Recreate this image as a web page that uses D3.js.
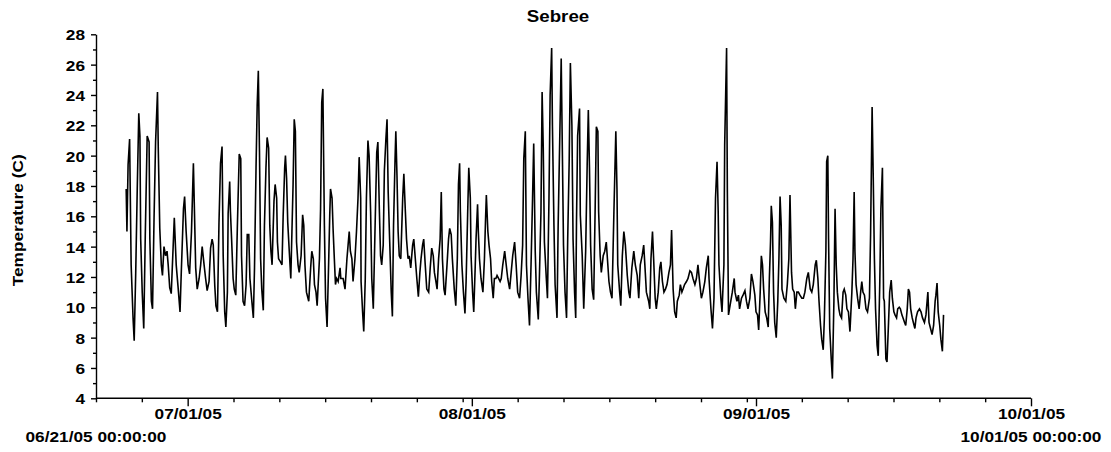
<!DOCTYPE html>
<html><head><meta charset="utf-8">
<script src="https://cdn.jsdelivr.net/npm/d3@7"></script>
<style>
body{margin:0;background:#fff}
svg{display:block}
text{font-family:"Liberation Sans",Arial,sans-serif;font-weight:bold;fill:#000}
</style>
</head><body>
<svg id="chart" width="1111" height="452"></svg>
<script>
// ---------- data ----------
const chartTitle = "Sebree";
const yAxisTitle = "Temperature (C)";
const origin = "2005-06-21T00:00:00Z";       // hours below are counted from here
const endTime = "2005-10-01T00:00:00Z";
const yMajorTicks = [4,6,8,10,12,14,16,18,20,22,24,26,28];
const yMinorTicks = [5,7,9,11,13,15,17,19,21,23,25,27];
const monthTicks = ["2005-07-01","2005-08-01","2005-09-01","2005-10-01"];
const fiveDayTicks = ["2005-06-21","2005-06-26","2005-07-06","2005-07-11","2005-07-16","2005-07-21","2005-07-26","2005-07-31",
  "2005-08-06","2005-08-11","2005-08-16","2005-08-21","2005-08-26","2005-08-31",
  "2005-09-06","2005-09-11","2005-09-16","2005-09-21","2005-09-26"];
const endLabels = ["06/21/05 00:00:00","10/01/05 00:00:00"];

// [hours since origin, temperature C]
const juneTemps = [[79,17.8],[81,15.0],[84,19.4],[88,21.1],[92,12.8],[97,9.3],[100,7.8],[104,12.3],[108,17.8],[112,22.8],[115,21.3],[117,14.5],[121,11.0],[125,8.6],[129,14.7],[134,21.3],[139,20.9],[141,14.5],[145,10.4],[148,9.9],[152,15.9],[156,20.9],[161,24.2],[163,20.5],[167,15.2],[171,12.8],[174,12.1],[178,14.0],[182,13.4],[186,13.7],[189,12.8],[193,11.3],[197,10.9],[202,14.0],[205,15.9],[210,12.8],[215,11.3],[220,9.7],[223,12.1],[229,16.5],[232,17.3],[236,15.0]];
const julyTemps = [[241,12.8],[245,12.2],[250,15.0],[255,19.5],[261,12.6],[265,11.2],[270,11.9],[274,12.8],[278,14.0],[283,12.8],[287,11.9],[291,11.1],[296,11.7],[300,13.9],[304,14.5],[307,14.1],[311,11.4],[314,10.1],[318,9.7],[322,15.6],[326,19.5],[330,20.6],[333,13.4],[337,9.7],[340,8.7],[344,11.0],[346,16.2],[350,18.3],[352,16.3],[355,14.5],[359,11.9],[362,11.2],[366,10.8],[370,15.2],[375,20.1],[379,19.8],[381,13.4],[385,10.4],[389,10.1],[393,11.5],[396,14.8],[400,14.8],[403,11.9],[408,10.4],[412,9.3],[415,12.6],[419,19.2],[422,23.3],[425,25.6],[428,20.3],[431,13.2],[434,11.2],[438,9.8],[441,15.4],[445,19.2],[448,21.2],[452,20.5],[455,15.4],[458,13.7],[461,12.8],[466,17.0],[469,18.1],[473,17.2],[475,14.3],[478,13.2],[483,13.0],[487,12.8],[490,16.0],[494,19.2],[496,20.0],[499,18.5],[502,15.6],[506,13.7],[510,11.9],[513,15.0],[516,18.1],[519,22.4],[522,21.6],[525,14.3],[529,12.8],[532,12.3],[537,13.4],[541,16.1],[544,15.4],[547,12.8],[551,11.0],[557,10.4],[562,12.6],[565,13.7],[569,13.2],[572,11.5],[576,11.0],[579,10.1],[585,13.2],[588,16.5],[591,23.5],[594,24.4],[598,15.4],[601,10.6],[605,8.7],[609,12.8],[612,16.1],[614,17.8],[618,17.2],[621,15.0],[624,13.2],[627,11.5],[630,11.9],[634,11.7],[639,12.6],[641,11.9],[647,11.9],[652,11.2],[657,13.2],[660,14.1],[663,15.0],[666,13.7],[670,13.2],[673,11.7],[678,13.2],[682,15.0],[686,17.2],[689,19.9],[693,17.2],[694,11.7],[698,9.7],[701,8.4],[705,11.9],[708,17.2],[712,21.0],[715,20.0],[719,16.3],[722,11.9],[726,9.9],[730,14.5],[735,20.2],[738,20.9],[742,16.3],[745,13.4],[748,12.8],[752,14.1],[755,19.0],[759,21.1],[762,22.4],[765,17.6],[769,14.3],[773,11.0],[776,9.4],[779,15.4],[783,19.8],[785,21.6],[788,18.7],[791,15.0],[794,13.4],[798,13.2],[803,17.2],[806,18.8],[810,16.3],[813,14.5],[817,13.2],[820,13.4],[824,12.6],[829,14.1],[832,14.5],[836,13.2],[840,11.9],[844,10.7],[848,12.3],[851,13.2],[855,14.1],[858,14.5],[862,12.8],[866,11.2],[871,11.0],[875,12.6],[879,13.9],[883,13.4],[886,12.3],[890,11.7],[893,11.2],[897,13.2],[901,14.5],[904,17.6],[907,13.2],[911,11.2],[914,10.8],[919,12.8],[923,14.5],[926,15.2],[930,14.8],[933,13.2],[938,11.2],[942,10.1],[946,13.2],[949,18.1],[952,19.5],[954,16.3],[958,12.8],[962,11.0],[966,9.6],[969,11.7],[973,16.1],[976,19.2],[980,17.2],[982,13.4]];
const augustTemps = [[986,11.0],[989,9.7],[993,12.8],[995,14.5],[999,16.8],[1001,15.0],[1004,13.2],[1008,11.9],[1013,11.0],[1017,13.2],[1020,15.9],[1022,17.4],[1026,15.0],[1029,14.1],[1033,13.2],[1036,11.7],[1040,10.6],[1043,11.9],[1047,11.9],[1050,12.1],[1054,11.9],[1058,11.7],[1061,11.9],[1065,12.8],[1070,13.7],[1074,12.8],[1078,11.9],[1083,11.2],[1087,12.3],[1091,13.4],[1096,14.3],[1100,12.8],[1104,11.0],[1109,10.6],[1113,12.1],[1117,14.1],[1120,19.8],[1124,21.6],[1127,12.8],[1131,10.6],[1135,8.8],[1139,12.8],[1143,17.2],[1146,20.8],[1150,13.7],[1153,11.0],[1158,9.2],[1161,12.1],[1165,16.3],[1168,24.2],[1171,20.5],[1174,14.3],[1179,11.9],[1182,10.6],[1186,17.2],[1189,24.0],[1193,27.1],[1195,22.0],[1199,15.4],[1202,11.5],[1207,9.3],[1210,15.4],[1214,20.9],[1218,26.4],[1221,20.3],[1224,14.1],[1228,11.0],[1232,9.3],[1235,14.5],[1239,19.8],[1242,26.1],[1246,22.0],[1249,14.5],[1253,11.0],[1256,9.3],[1258,15.6],[1261,21.3],[1266,23.1],[1268,16.1],[1273,13.4],[1277,9.9],[1282,13.7],[1286,19.4],[1289,23.0],[1292,19.2],[1295,14.1],[1299,11.2],[1303,10.5],[1307,16.7],[1310,21.9],[1314,21.6],[1316,16.3],[1320,13.4],[1323,12.3],[1328,13.4],[1332,13.7],[1336,14.3],[1339,13.2],[1343,11.7],[1347,11.0],[1351,10.6],[1356,16.3],[1361,21.6],[1364,17.8],[1366,12.8],[1371,11.0],[1374,10.1],[1378,13.4],[1382,15.0],[1386,14.1],[1391,12.1],[1395,11.0],[1398,10.6],[1403,12.6],[1408,13.7],[1412,12.8],[1417,12.1],[1421,10.6],[1425,12.8],[1430,13.4],[1434,14.1],[1437,12.8],[1441,11.0],[1447,10.4],[1450,9.9],[1453,13.2],[1457,15.0],[1460,13.2],[1464,10.6],[1467,9.9],[1472,11.0],[1476,12.6],[1479,13.0],[1483,11.7],[1487,11.0],[1491,11.2],[1495,11.5],[1500,12.3],[1504,12.8],[1507,15.1],[1511,11.2],[1515,9.7],[1519,9.3],[1522,10.4],[1527,10.8],[1530,11.5],[1534,11.0],[1537,11.2],[1541,11.5],[1546,11.7],[1550,11.9],[1555,12.4],[1559,12.3],[1563,11.9],[1568,11.5],[1572,11.9],[1576,12.8],[1581,11.5],[1585,10.6],[1589,11.0],[1594,11.7],[1598,12.6],[1603,13.4],[1605,11.9],[1610,9.9],[1614,8.6],[1618,10.6],[1622,17.2],[1626,19.6],[1629,16.3],[1631,12.8],[1636,10.6],[1639,9.7],[1644,12.8],[1646,20.7],[1651,27.1],[1653,17.6],[1656,9.5],[1662,10.4],[1666,11.0],[1671,11.9],[1673,11.0],[1678,10.4],[1682,10.8],[1685,9.9],[1690,10.6],[1694,10.8],[1699,11.1],[1703,10.4],[1707,9.9],[1712,10.6],[1716,12.2],[1720,11.7],[1725,10.8]];
const septemberTemps = [[1728,9.7],[1732,9.5],[1735,8.5],[1739,11.0],[1742,13.4],[1745,12.8],[1748,11.2],[1752,9.7],[1756,9.3],[1760,8.7],[1763,11.9],[1766,14.3],[1768,16.7],[1771,15.6],[1774,11.0],[1777,9.0],[1781,8.0],[1785,10.4],[1788,13.2],[1791,17.3],[1794,15.4],[1796,11.2],[1801,10.6],[1806,10.4],[1810,11.5],[1814,13.2],[1817,17.4],[1821,12.3],[1824,11.2],[1828,11.0],[1831,9.9],[1835,11.0],[1839,11.0],[1843,10.8],[1848,10.6],[1852,10.6],[1856,11.0],[1861,11.9],[1865,12.3],[1870,11.2],[1874,11.0],[1878,11.5],[1883,12.8],[1886,13.1],[1890,11.9],[1893,10.4],[1897,8.8],[1900,7.9],[1904,7.2],[1907,9.3],[1911,13.7],[1913,19.6],[1916,20.0],[1918,14.5],[1921,8.6],[1925,6.6],[1928,5.3],[1932,10.4],[1935,16.5],[1938,12.8],[1941,11.0],[1945,9.9],[1948,9.5],[1952,9.3],[1956,11.0],[1959,11.2],[1963,10.8],[1966,9.9],[1970,9.7],[1974,8.4],[1979,11.0],[1982,13.2],[1985,17.6],[1987,13.7],[1990,11.5],[1994,10.6],[1998,9.9],[2002,11.0],[2005,11.7],[2008,11.0],[2012,10.8],[2016,9.9],[2020,9.7],[2025,10.6],[2028,14.8],[2032,23.2],[2035,18.5],[2038,13.2],[2041,9.9],[2045,7.5],[2048,6.8],[2052,11.5],[2055,16.5],[2059,19.2],[2062,10.6],[2064,10.4],[2068,6.6],[2071,6.4],[2075,9.0],[2078,11.0],[2082,11.8],[2085,10.6],[2089,9.7],[2092,9.5],[2096,9.3],[2099,9.9],[2103,10.0],[2106,9.9],[2110,9.5],[2113,9.3],[2117,9.0],[2120,8.8],[2124,9.9],[2127,11.2],[2130,11.0],[2133,9.9],[2137,9.3],[2140,9.0],[2144,8.6],[2147,9.3],[2151,9.7],[2156,9.9],[2160,9.7],[2164,9.3],[2169,9.0],[2173,9.5],[2178,11.0],[2181,9.0],[2185,8.6],[2189,8.2],[2193,8.8],[2197,10.4],[2199,10.8],[2202,11.6],[2205,9.7],[2209,8.8],[2212,7.9],[2216,7.1],[2219,9.5]];

// ---------- chart ----------
const STRETCH = 1.15;
const svg = d3.select("#chart");
const t0 = new Date(origin);
const series = [...juneTemps, ...julyTemps, ...augustTemps, ...septemberTemps]
  .map(([h, v]) => ({date: d3.utcHour.offset(t0, h), value: v}));

const x = d3.scaleUtc().domain([t0, new Date(endTime)]).range([96, 1031]);
const y = d3.scaleLinear().domain([4, 28]).range([398.3, 34.3]);
const parse = d3.utcParse("%Y-%m-%d");
const fmt = d3.utcFormat("%m/%d/%y");

// x axis
const gxMinor = svg.append("g").attr("transform", `translate(0,${y(4)})`)
  .call(d3.axisBottom(x).tickValues(fiveDayTicks.map(parse)).tickSize(4).tickSizeOuter(0).tickFormat(""));
gxMinor.select(".domain").remove();
const gxMajor = svg.append("g").attr("transform", `translate(0,${y(4)})`)
  .call(d3.axisBottom(x).tickValues(monthTicks.map(parse)).tickSize(8).tickSizeOuter(0).tickFormat(fmt));
gxMajor.select(".domain").attr("d", `M${x.range()[0]},0H${x.range()[1]}`);
gxMajor.selectAll("text").attr("y", 21).attr("dy", null)
  .attr("transform", `scale(${STRETCH},1)`).style("font-size", "15px").style("font-family", null);

// y axis
const gyMinor = svg.append("g").attr("transform", `translate(${x.range()[0]},0)`)
  .call(d3.axisLeft(y).tickValues(yMinorTicks).tickSize(3).tickSizeOuter(0).tickFormat(""));
gyMinor.select(".domain").remove();
const gyMajor = svg.append("g").attr("transform", `translate(${x.range()[0]},0)`)
  .call(d3.axisLeft(y).tickValues(yMajorTicks).tickSize(5).tickSizeOuter(0));
gyMajor.selectAll("text").attr("x", -11 / STRETCH).attr("dy", "0.36em")
  .attr("transform", `scale(${STRETCH},1)`).style("font-size", "15px").style("font-family", null);

svg.selectAll(".domain, .tick line").attr("stroke", "#000").attr("stroke-width", 1.4);
svg.selectAll(".tick text").attr("fill", "#000");

// end date-time labels
const endDates = [t0, new Date(endTime)];
svg.selectAll(".endlab").data(endLabels).join("text")
  .attr("class", "endlab")
  .attr("transform", (d, i) => `translate(${x(endDates[i])},442) scale(${STRETCH},1)`)
  .attr("text-anchor", "middle").style("font-size", "15px").text(d => d);

// title
svg.append("text").attr("transform", `translate(558,22) scale(1.1,1)`)
  .attr("text-anchor", "middle").style("font-size", "17px").text(chartTitle);

// y axis title
svg.append("text").attr("transform", `translate(23,${(y(4) + y(28)) / 2 + 4}) rotate(-90) scale(${STRETCH},1)`)
  .attr("text-anchor", "middle").style("font-size", "15px").text(yAxisTitle);

// line
const line = d3.line().x(d => x(d.date)).y(d => y(d.value));
svg.append("path").datum(series).attr("d", line)
  .attr("fill", "none").attr("stroke", "#000").attr("stroke-width", 1.6).attr("stroke-linejoin", "miter");
</script>
</body></html>
